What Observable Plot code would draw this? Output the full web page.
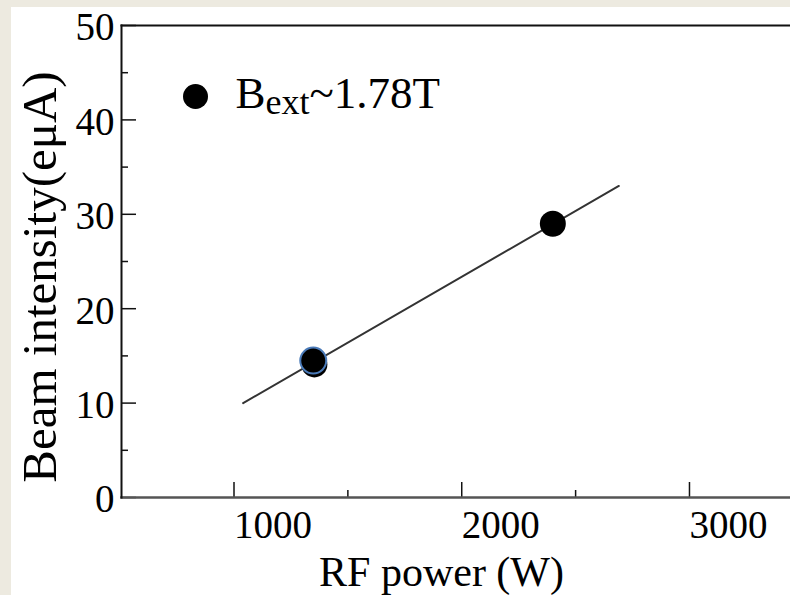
<!DOCTYPE html>
<html><head><meta charset="utf-8">
<script src="https://cdn.jsdelivr.net/npm/d3@7"></script>
<script src="https://cdn.jsdelivr.net/npm/@observablehq/plot@0.6"></script>
<style>
html,body{margin:0;padding:0;background:#edeae0;}
#chart{padding:7px 0 0 11px;line-height:0;}
svg{display:block}
</style></head><body><div id="chart"></div>
<script>
// data
const powerW = [1353, 1348, 2400];
const intensity = [14.1, 14.5, 29.0];
const ringedIndex = [1];
const fitPower = [1040, 2690];
const fitIntensity = [10, 33];
const xMajorTicks = [1000, 2000, 3000];
const xMinorTicks = [1500, 2500];
const yMajorTicks = [0, 10, 20, 30, 40, 50];
const yMinorTicks = [5, 15, 25, 35, 45];
const xLabel = "RF power (W)";
const yLabel = "Beam intensity(eμA)";
const legendParts = ["B", "ext", "~1.78T"];

const points = powerW.map((x, i) => ({x, y: intensity[i]}));
const ringed = points.filter((d, i) => ringedIndex.includes(i));
const fit = fitPower.map((x, i) => ({x, y: fitIntensity[i]}));
const font = "'Liberation Serif', 'Times New Roman', serif";

const W = 779, H = 588, ML = 110, MR = 0, MT = 18, MB = 98;
const frameW = W - ML - MR, frameH = H - MT - MB;
const major = 15, minor = 7;

const chart = Plot.plot({
  width: W, height: H,
  marginLeft: ML, marginRight: MR, marginTop: MT, marginBottom: MB,
  style: {background: "white", fontFamily: font, color: "black", overflow: "visible"},
  x: {domain: [506, 3443.6]},
  y: {domain: [0, 50]},
  marks: [
    // inward tick marks
    Plot.tickX(xMajorTicks, {x: d => d, insetTop: frameH - major, stroke: "#111", strokeWidth: 1.5}),
    Plot.tickX(xMinorTicks, {x: d => d, insetTop: frameH - minor, stroke: "#111", strokeWidth: 1.5}),
    Plot.tickY(yMajorTicks, {y: d => d, insetRight: frameW - major, stroke: "#111", strokeWidth: 1.5}),
    Plot.tickY(yMinorTicks, {y: d => d, insetRight: frameW - minor, stroke: "#111", strokeWidth: 1.5}),
    // tick labels
    Plot.axisX(xMajorTicks, {tickSize: 0, tickPadding: 13, textAnchor: "start", fontSize: 39, label: null, tickFormat: d => String(d)}),
    Plot.axisY(yMajorTicks, {tickSize: 0, tickPadding: 7, fontSize: 39, dy: 2.5, label: null, tickFormat: d => String(d)}),
    Plot.frame({anchor: "bottom", stroke: "#555", strokeWidth: 2.5}),
    Plot.frame({anchor: "left", stroke: "#111", strokeWidth: 2}),
    Plot.frame({anchor: "top", stroke: "#111", strokeWidth: 2}),
    Plot.line(fit, {x: "x", y: "y", stroke: "#333", strokeWidth: 2}),
    Plot.dot(points, {x: "x", y: "y", r: 13, fill: "black"}),
    Plot.dot(ringed, {x: "x", y: "y", r: 13, fill: "black", stroke: "#4a7ab8", strokeWidth: 2}),
    Plot.dot([legendParts], {frameAnchor: "top-left", dx: 74, dy: 71, r: 12.5, fill: "black"}),
    Plot.text([legendParts.join("")], {frameAnchor: "top-left", dx: 114, dy: 82, textAnchor: "start", lineAnchor: "bottom", fontSize: 45, className: "legend-label"}),
    Plot.text([xLabel], {frameAnchor: "bottom", dx: -14.5, dy: 88, lineAnchor: "bottom", fontSize: 42}),
    Plot.text([yLabel], {frameAnchor: "left", rotate: -90, dx: -66, dy: 15.5, textAnchor: "middle", lineAnchor: "bottom", fontSize: 49})
  ]
});
document.getElementById("chart").appendChild(chart);

// subscript in the legend label
const lt = d3.select(chart).select("g.legend-label text");
lt.text(null);
lt.append("tspan").text(legendParts[0]);
lt.append("tspan").attr("font-size", 36).attr("dy", 6).text(legendParts[1]);
lt.append("tspan").attr("dy", -6).text(legendParts[2]);
</script></body></html>
